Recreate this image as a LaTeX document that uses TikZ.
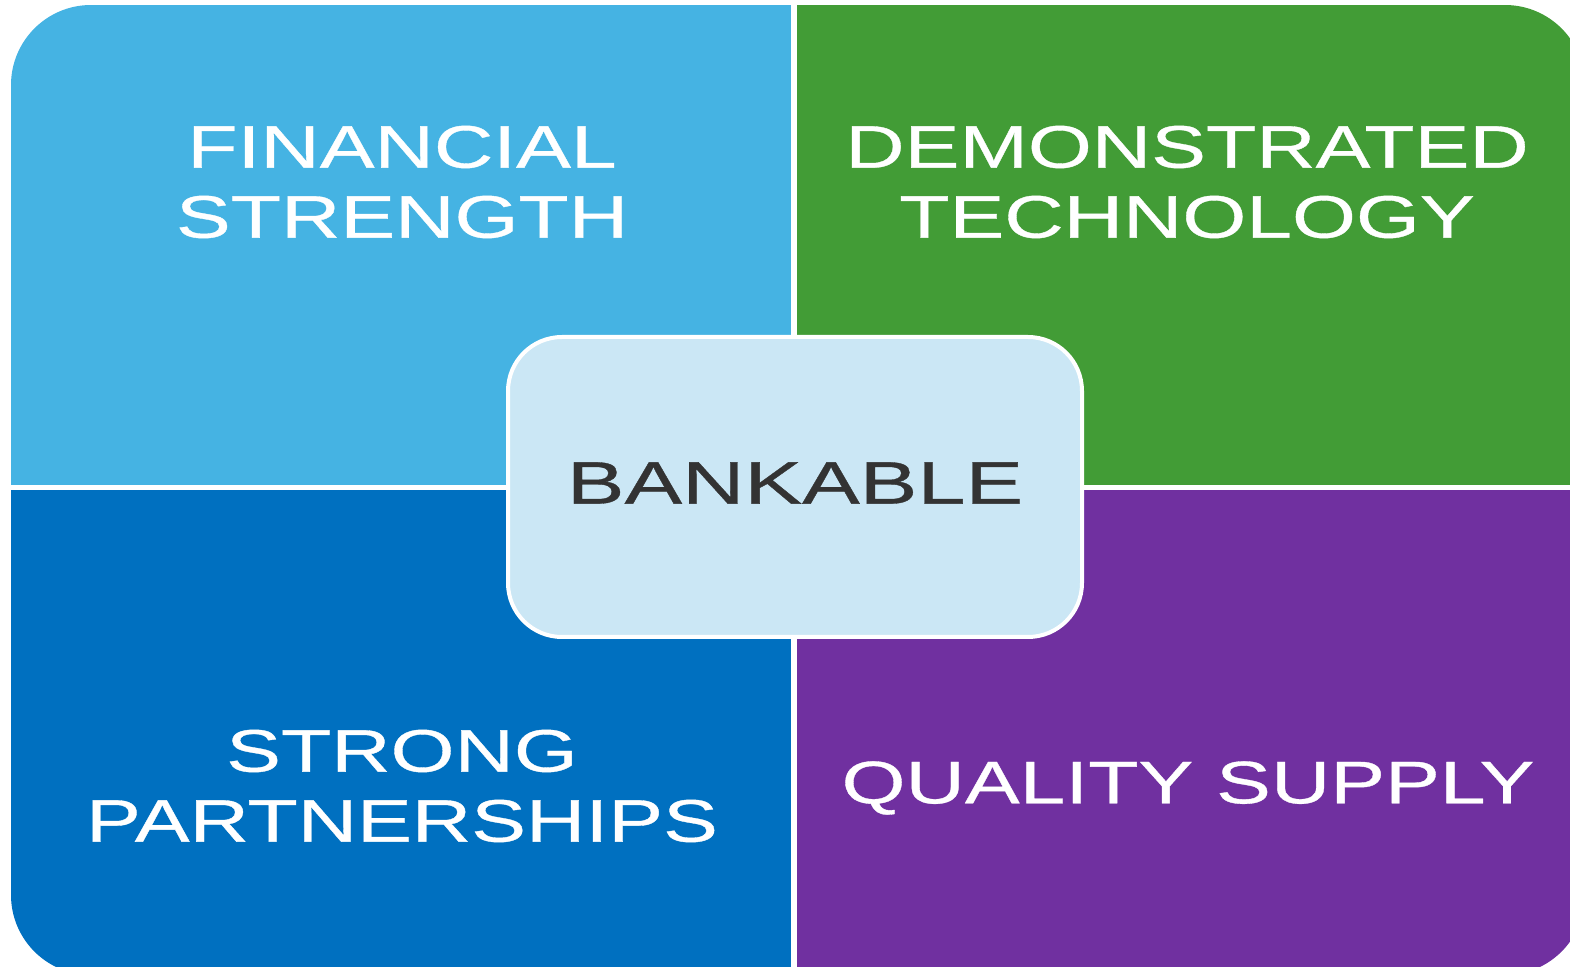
\documentclass[tikz,border=0pt]{standalone}
\usepackage{fontspec}
\newfontfamily\boxfont[FakeStretch=1.37,FakeBold=0.6]{Liberation Sans}
\newfontfamily\bankfont[FakeStretch=1.44,FakeBold=0.6]{Liberation Sans}
\definecolor{finblue}{RGB}{69,179,227}
\definecolor{techgreen}{RGB}{66,156,54}
\definecolor{partblue}{RGB}{0,112,192}
\definecolor{supplypurple}{RGB}{112,48,160}
\definecolor{bankfill}{RGB}{203,231,245}
\definecolor{bankgray}{RGB}{51,51,51}
\begin{document}
\begin{tikzpicture}[x=0.5pt,y=-0.5pt]
	\tikzstyle{every node}+=[inner sep=0pt]
	\tikzstyle{quadtext}=[text=white, align=center, font=\boxfont\fontsize{30}{35}\selectfont]
	\tikzstyle{centerbox}=[draw=white, line width=2pt, fill=bankfill, rounded corners=27pt,
		minimum width=287pt, minimum height=150pt]
	\useasboundingbox (0,0) rectangle (1570,967);
	\begin{scope}
		\clip [rounded corners=40pt] (11,5) rectangle (1585,975);
		\fill [finblue] (11,5) rectangle (791,485);
		\fill [techgreen] (797,5) rectangle (1585,485);
		\fill [partblue] (11,490) rectangle (791,975);
		\fill [supplypurple] (797,490) rectangle (1585,975);
	\end{scope}
	\node [quadtext] (financial) at (402,182) {FINANCIAL\\STRENGTH};
	\node [quadtext] (technology) at (1187,182) {DEMONSTRATED\\TECHNOLOGY};
	\node [quadtext] (partnerships) at (402,786) {STRONG\\PARTNERSHIPS};
	\node [quadtext] (supply) at (1188,788) {QUALITY SUPPLY};
	\node [centerbox] (bankable) at (795,487) {};
	\node [text=bankgray, font=\bankfont\fontsize{30}{35}\selectfont] (banktext) at (795,483) {BANKABLE};
\end{tikzpicture}
\end{document}
